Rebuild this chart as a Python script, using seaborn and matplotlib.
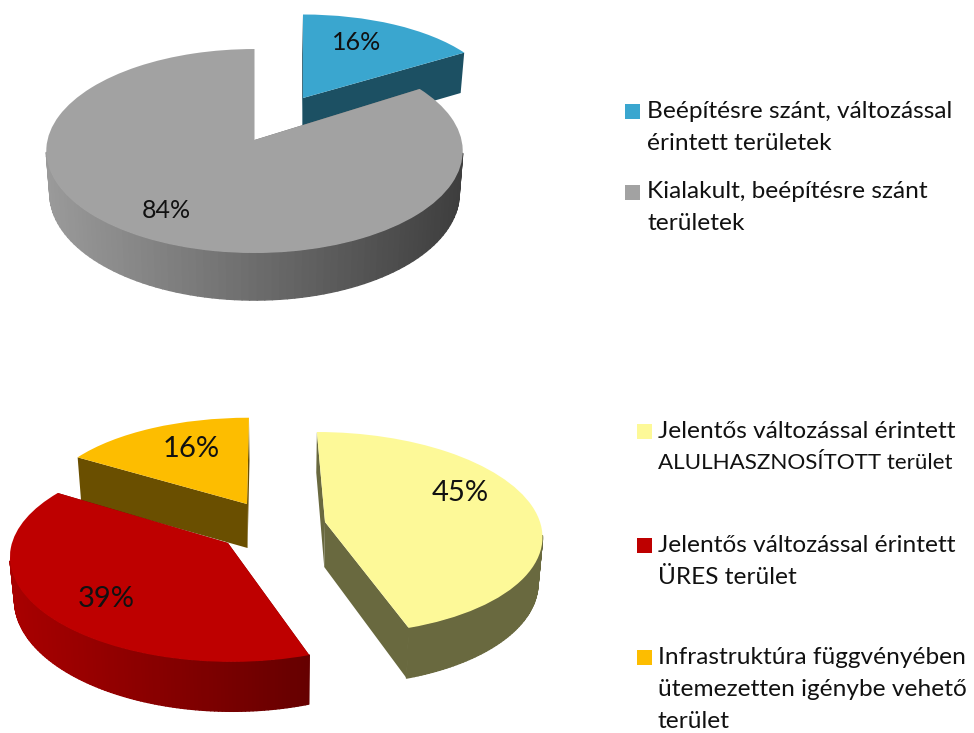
import numpy as np
import seaborn as sns
import matplotlib
matplotlib.use("Agg")
import matplotlib.pyplot as plt
from matplotlib.collections import PolyCollection
from matplotlib.colors import to_rgb
from matplotlib.patches import Rectangle
from matplotlib.transforms import Transform

# ---- data
upper_values = [16, 84]
upper_labels = ["Beépítésre szánt, változással\nérintett területek",
                "Kialakult, beépítésre szánt\nterületek"]
lower_values = [45, 39, 16]
lower_labels = ["Jelentős változással érintett\nALULHASZNOSÍTOTT terület",
                "Jelentős változással érintett\nÜRES terület",
                "Infrastruktúra függvényében\nütemezetten igénybe vehető\nterület"]

# ---- style
sns.set_theme(style="white", font="Lato")
plt.rcParams["font.family"] = ["Lato", "DejaVu Sans"]
upper_colors = sns.color_palette(["#3aa6cf", "#a2a2a2"])
lower_colors = sns.color_palette(["#fdf998", "#be0000", "#fdbd00"])
TEXT = "#111111"

# per-slice view of the tilted disc: centre x/y, radius, height, perspective, skew, depth
# plus wall colours (left, right), vanishing x, draw order and percent-label position
upper_view = [
    dict(cx=303, cy=98, R=194, H=86, B=.03, k=0, D=41, wall=("#1c5063", "#1c5063"), vx=255, z=2, lab=(357, 43), fs=18),
    dict(cx=254.5, cy=140, R=207, H=100.8, B=.108, k=0, D=42, wall=("#9a9a9a", "#3e3e3e"), vx=255, z=3, lab=(166, 210), fs=18),
]
lower_view = [
    dict(cx=325, cy=522, R=215, H=99.8, B=.109, k=-9, D=45, wall=("#69693f", "#69693f"), vx=280, z=2, lab=(460, 493), fs=21),
    dict(cx=228, cy=543, R=216, H=100.9, B=.151, k=-3, D=42, wall=("#a80000", "#470000"), vx=280, z=4, lab=(106, 599), fs=21),
    dict(cx=247, cy=504, R=204, H=88, B=.02, k=2, D=44, wall=("#6a4f00", "#6a4f00"), vx=280, z=3, lab=(191, 449), fs=21),
]


class Tilt(Transform):
    """Projects the unit pie onto the figure with a perspective tilt."""
    input_dims = output_dims = 2

    def __init__(self, v):
        super().__init__()
        self.v = v

    def transform_non_affine(self, xy):
        xy = np.asarray(xy, float)
        v = self.v
        s = 1 / (1 + v["B"] * xy[:, 1])
        return np.column_stack([v["cx"] + (v["R"] * xy[:, 0] + v["k"] * xy[:, 1]) * s,
                                v["cy"] - v["H"] * xy[:, 1] * s])


def under(v, pts):
    """Lower edge of the slab beneath projected points."""
    s = 1 / (1 + v["B"] * pts[1])
    return pts[0] - .017 * (pts[0] - v["vx"]), pts[2] + v["D"] * s


def project(v, u, w):
    s = 1 / (1 + v["B"] * w)
    return (v["cx"] + (v["R"] * u + v["k"] * w) * s, w, v["cy"] - v["H"] * w * s)


def draw_pie(ax, values, colors, views):
    wedges, _ = ax.pie(values, colors=colors, startangle=90, counterclock=False,
                       wedgeprops=dict(linewidth=0, edgecolor="none"))
    ax.set_aspect("auto")
    ax.set_xlim(0, 974)
    ax.set_ylim(733, 0)
    for wedge, val, view in zip(wedges, values, views):
        wedge.set_transform(Tilt(view) + ax.transData)
        wedge.set_zorder(view["z"] + .5)
        left, right = map(np.array, map(to_rgb, view["wall"]))
        # cut faces
        polys = []
        for a in (wedge.theta1, wedge.theta2):
            u, w = np.cos(np.radians(a)), np.sin(np.radians(a))
            p0, p1 = project(view, 0, 0), project(view, u, w)
            b0, b1 = under(view, p0), under(view, p1)
            polys.append([(p0[0], p0[2]), (p1[0], p1[2]), b1, b0])
        base = left * .5 + right * .5
        ax.add_collection(PolyCollection(polys, facecolors=[base], edgecolors="none",
                                         linewidths=0, zorder=view["z"]))
        # curved outer wall (front part only), shaded from left to right
        ang = np.radians(np.linspace(wedge.theta1, wedge.theta2, 160))
        top = project(view, np.cos(ang), np.sin(ang))
        bx, by = under(view, top)
        polys, cols = [], []
        x0, x1 = view["cx"] - view["R"], view["cx"] + view["R"]
        for i in range(len(ang) - 1):
            if np.sin(ang[i]) > -view["B"] - .03 and np.sin(ang[i + 1]) > -view["B"] - .03:
                continue
            polys.append([(top[0][i], top[2][i]), (top[0][i + 1], top[2][i + 1]),
                          (bx[i + 1], by[i + 1]), (bx[i], by[i])])
            f = np.clip((top[0][i] - x0) / (x1 - x0), 0, 1)
            cols.append(left * (1 - f) + right * f)
        if polys:
            ax.add_collection(PolyCollection(polys, facecolors=cols, edgecolors=cols,
                                             linewidths=1.0, zorder=view["z"] + .2))
        ax.text(*view["lab"], f"{val}%", fontsize=view["fs"], color=TEXT,
                ha="center", va="center", zorder=10)


def draw_key(ax, labels, colors, x_box, x_text, rows, fs=17.6):
    for lab, col, y in zip(labels, colors, rows):
        ax.add_patch(Rectangle((x_box, y - 7.5), 15, 15, facecolor=col, edgecolor="none"))
        for i, line in enumerate(lab.split("\n")):
            # the capitals of this font run wider than the rest of the key
            size = fs - 1.5 if "ALUL" in line else fs
            ax.text(x_text, y + i * 32, line, fontsize=size, color=TEXT, ha="left", va="center")


fig = plt.figure(figsize=(9.74, 7.33), dpi=100)
ax = fig.add_axes([0, 0, 1, 1])
draw_pie(ax, upper_values, upper_colors, upper_view)
draw_pie(ax, lower_values, lower_colors, lower_view)
ax.set_xlim(0, 974)
ax.set_ylim(733, 0)
ax.set_aspect("auto")
ax.axis("off")
draw_key(ax, upper_labels, upper_colors, 625, 647, [111, 192])
draw_key(ax, lower_labels, lower_colors, 637, 658, [431, 545, 657])
fig.savefig("out.png", dpi=100)
